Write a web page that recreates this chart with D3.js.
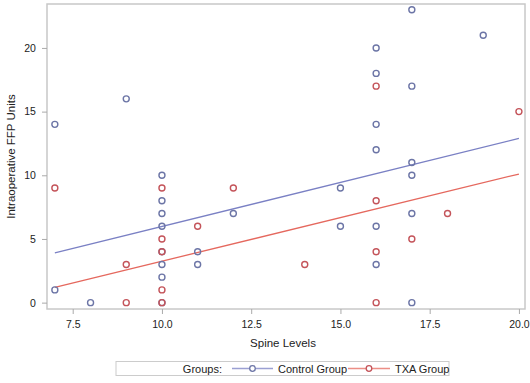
<!DOCTYPE html>
<html>
<head>
<meta charset="utf-8">
<script src="https://cdn.jsdelivr.net/npm/d3@7"></script>
<style>
  body { margin: 0; background: #fff; }
  svg text { font-family: "Liberation Sans", Arial, sans-serif; fill: #222; }
</style>
</head>
<body>
<div id="chart"></div>
<script>
// control group points [spine levels, FFP units]
const controlPoints = [
    [7, 14], [7, 1], [8, 0], [9, 16],
    [10, 10], [10, 8], [10, 7], [10, 6], [10, 4], [10, 3], [10, 2], [10, 0],
    [11, 4], [11, 3], [12, 7], [15, 9], [15, 6],
    [16, 20], [16, 18], [16, 14], [16, 12], [16, 6], [16, 3],
    [17, 23], [17, 17], [17, 11], [17, 10], [17, 7], [17, 0],
    [19, 21]
];
// TXA group points
const txaPoints = [
    [7, 9], [9, 3], [9, 0],
    [10, 9], [10, 5], [10, 4], [10, 1], [10, 0],
    [11, 6], [12, 9], [14, 3],
    [16, 17], [16, 8], [16, 4], [16, 0],
    [17, 5], [18, 7], [20, 15]
];
// fitted lines
const controlFit = [[7, 3.9], [20, 12.9]];
const txaFit = [[7, 1.2], [20, 10.1]];

const xTicks = [7.5, 10, 12.5, 15, 17.5, 20];
const yTicks = [0, 5, 10, 15, 20];
const groups = ['Control Group', 'TXA Group'];

const colors = {
    'Control Group': { marker: '#6c75a6', line: '#7a80c4' },
    'TXA Group': { marker: '#c4545a', line: '#e5685e' }
};

const width = 530, height = 383;
const frame = { left: 47, right: 525, top: 4, bottom: 309 };

const svg = d3.select('#chart').append('svg')
    .attr('width', width)
    .attr('height', height);

const x = d3.scaleLinear()
    .domain([6.78, 20.17])
    .range([frame.left, frame.right]);
const y = d3.scaleLinear()
    .domain([-0.5, 23.45])
    .range([frame.bottom, frame.top]);

// frame
svg.append('rect')
    .attr('x', frame.left).attr('y', frame.top)
    .attr('width', frame.right - frame.left)
    .attr('height', frame.bottom - frame.top)
    .attr('fill', 'none')
    .attr('stroke', '#c8c8c8')
    .attr('stroke-width', 1.5);

// axes
const xAxis = svg.append('g')
    .attr('transform', 'translate(0,' + frame.bottom + ')')
    .call(d3.axisBottom(x).tickValues(xTicks).tickFormat(d3.format('.1f')).tickSize(5).tickSizeOuter(0));
const yAxis = svg.append('g')
    .attr('transform', 'translate(' + frame.left + ',0)')
    .call(d3.axisLeft(y).tickValues(yTicks).tickSize(5).tickSizeOuter(0));

[xAxis, yAxis].forEach(a => {
    a.select('.domain').remove();
    a.selectAll('line').attr('stroke', '#aaa');
    a.selectAll('text').attr('font-size', 10.5).attr('fill', '#222');
});
xAxis.selectAll('text').attr('dy', '1.05em');
yAxis.selectAll('text').attr('dx', '-0.3em');

// axis titles
svg.append('text')
    .attr('x', 283).attr('y', 347)
    .attr('text-anchor', 'middle')
    .attr('font-size', 11.5)
    .text('Spine Levels');
svg.append('text')
    .attr('transform', 'translate(15,' + ((frame.top + frame.bottom) / 2) + ') rotate(-90)')
    .attr('text-anchor', 'middle')
    .attr('font-size', 11.5)
    .text('Intraoperative FFP Units');

// fit lines
const line = d3.line().x(d => x(d[0])).y(d => y(d[1]));
[[controlFit, 'Control Group'], [txaFit, 'TXA Group']].forEach(([fit, g]) => {
    svg.append('path')
        .attr('d', line(fit))
        .attr('fill', 'none')
        .attr('stroke', colors[g].line)
        .attr('stroke-width', 1.3);
});

// markers
[[controlPoints, 'Control Group'], [txaPoints, 'TXA Group']].forEach(([pts, g]) => {
    svg.append('g').selectAll('circle')
        .data(pts)
        .enter().append('circle')
        .attr('cx', d => x(d[0]))
        .attr('cy', d => y(d[1]))
        .attr('r', 3)
        .attr('fill', 'none')
        .attr('stroke', colors[g].marker)
        .attr('stroke-width', 1.4);
});

// legend
const legend = svg.append('g');
legend.append('rect')
    .attr('x', 116).attr('y', 361.5)
    .attr('width', 333).attr('height', 14)
    .attr('fill', '#fff')
    .attr('stroke', '#ccc');
legend.append('text')
    .attr('x', 222).attr('y', 372.5)
    .attr('text-anchor', 'end')
    .attr('font-size', 11)
    .text('Groups:');
const items = [
    { name: groups[0], x0: 232, x1: 273 },
    { name: groups[1], x0: 348, x1: 390 }
];
items.forEach(it => {
    legend.append('line')
        .attr('x1', it.x0).attr('x2', it.x1)
        .attr('y1', 368.5).attr('y2', 368.5)
        .attr('stroke', colors[it.name].line)
        .attr('stroke-opacity', 0.75)
        .attr('stroke-width', 1.3);
    legend.append('circle')
        .attr('cx', (it.x0 + it.x1) / 2).attr('cy', 368.5)
        .attr('r', 2.8)
        .attr('fill', '#fff')
        .attr('stroke', colors[it.name].marker)
        .attr('stroke-width', 1.3);
    legend.append('text')
        .attr('x', it.x1 + 5).attr('y', 372.5)
        .attr('font-size', 11)
        .text(it.name);
});
</script>
</body>
</html>
